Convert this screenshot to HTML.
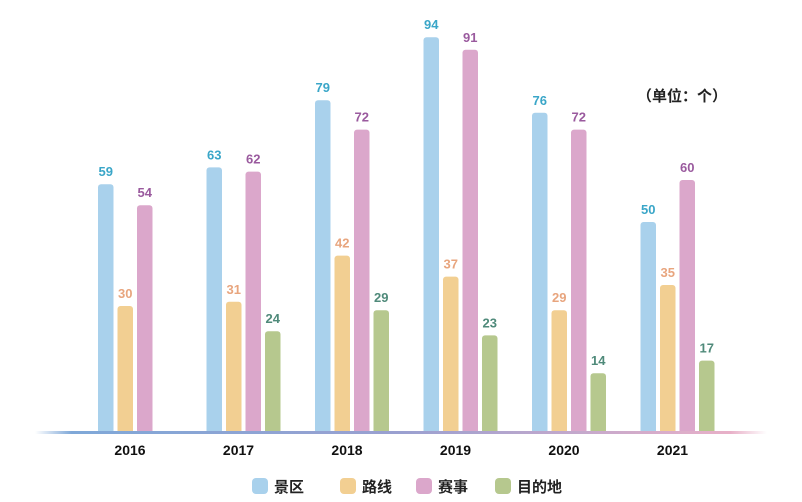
<!DOCTYPE html>
<html><head><meta charset="utf-8"><style>
body{margin:0;background:#fff;}
svg text{font-family:"Liberation Sans","Noto Sans CJK SC",sans-serif;}
</style></head><body>
<svg width="802" height="497" viewBox="0 0 802 497">
<defs><linearGradient id="bl" x1="0" x2="1"><stop offset="0" stop-color="#fff"/><stop offset="0.05" stop-color="#7fa8d8"/><stop offset="0.5" stop-color="#9aa0d0"/><stop offset="0.95" stop-color="#e8b0c8"/><stop offset="1" stop-color="#fff"/></linearGradient></defs>
<g id="bars"></g>
<rect x="35" y="431" width="732" height="3" fill="url(#bl)"/>
<text x="682" y="101" font-size="15" font-weight="bold" text-anchor="middle" fill="#222">（单位：个）</text>
<g id="xl"></g>
<g>
<rect x="252" y="478" width="16" height="16" rx="4" fill="#a9d1ec"/>
<text x="274" y="492" font-size="15" font-weight="bold" fill="#222">景区</text>
<rect x="340" y="478" width="16" height="16" rx="4" fill="#f2cf92"/>
<text x="362" y="492" font-size="15" font-weight="bold" fill="#222">路线</text>
<rect x="416" y="478" width="16" height="16" rx="4" fill="#dba7cb"/>
<text x="438" y="492" font-size="15" font-weight="bold" fill="#222">赛事</text>
<rect x="495" y="478" width="16" height="16" rx="4" fill="#b6c88e"/>
<text x="517" y="492" font-size="15" font-weight="bold" fill="#222">目的地</text>
</g>
</svg>
<script>
const years=["2016","2017","2018","2019","2020","2021"];
const jingqu=[59,63,79,94,76,50];
const luxian=[30,31,42,37,29,35];
const saishi=[54,62,72,91,72,60];
const mudidi=[0,24,29,23,14,17];
const NS="http://www.w3.org/2000/svg";
const base=432, k=4.2;
const y=v=>base-v*k;
const gx=i=>98+i*108.5;
const series=[[jingqu,"#a9d1ec","#3aa6c8","jingqu"],[luxian,"#f2cf92","#e8a57e","luxian"],[saishi,"#dba7cb","#9a5a9e","saishi"],[mudidi,"#b6c88e","#4f8a7a","mudidi"]];
const g=document.getElementById("bars"), xl=document.getElementById("xl");
years.forEach((yr,i)=>{
 series.forEach((s,j)=>{
  const v=s[0][i]; if(!v) return;
  const x=gx(i)+j*19.5;
  const r=document.createElementNS(NS,"rect");
  r.setAttribute("x",x);r.setAttribute("y",y(v));r.setAttribute("width",15.5);r.setAttribute("height",v*k+2);r.setAttribute("rx",3);r.setAttribute("fill",s[1]);
  
  
  g.appendChild(r);
  const t=document.createElementNS(NS,"text");
  t.setAttribute("x",x+7.75);t.setAttribute("y",y(v)-8);t.setAttribute("text-anchor","middle");t.setAttribute("font-size","13");t.setAttribute("font-weight","bold");t.setAttribute("fill",s[2]);
  t.textContent=v;
  
  
  g.appendChild(t);
 });
 const t=document.createElementNS(NS,"text");
 t.setAttribute("x",gx(i)+32);t.setAttribute("y",455);t.setAttribute("text-anchor","middle");t.setAttribute("font-size","14");t.setAttribute("font-weight","bold");t.setAttribute("fill","#111");
 t.textContent=yr;
 
 
 xl.appendChild(t);
});
</script>
</body></html>
